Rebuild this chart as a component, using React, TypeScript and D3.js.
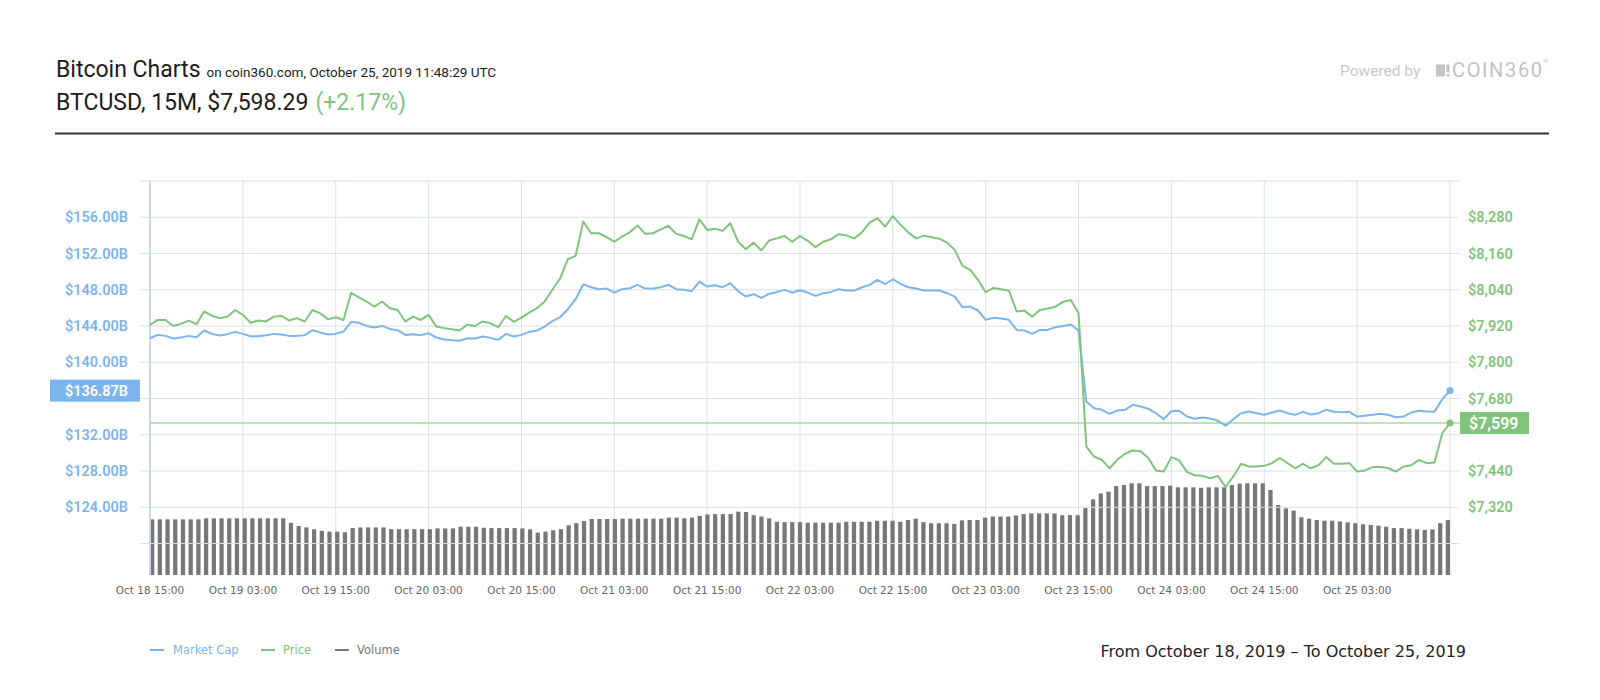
import * as d3 from "d3";

// hourly samples, Oct 18 15:00 -> Oct 25
const xTickLabels = [
  "Oct 18 15:00", "Oct 19 03:00", "Oct 19 15:00", "Oct 20 03:00", "Oct 20 15:00",
  "Oct 21 03:00", "Oct 21 15:00", "Oct 22 03:00", "Oct 22 15:00", "Oct 23 03:00",
  "Oct 23 15:00", "Oct 24 03:00", "Oct 24 15:00", "Oct 25 03:00",
];

// market cap, $B
const marketCap = [
  142.65, 143.02, 142.91, 142.62, 142.73, 142.91, 142.76, 143.5, 143.13, 142.95,
  143.1, 143.35, 143.13, 142.87, 142.87, 142.99, 143.13, 143.06, 142.91, 142.91,
  142.99, 143.54, 143.28, 143.06, 143.13, 143.39, 144.46, 144.35, 144.01, 143.83,
  144.01, 143.68, 143.54, 143.02, 143.1, 142.99, 143.21, 142.73, 142.51, 142.43,
  142.36, 142.65, 142.62, 142.84, 142.69, 142.47, 143.13, 142.84, 143.02, 143.35,
  143.5, 143.94, 144.53, 144.97, 145.85, 146.96, 148.6, 148.28, 148.06, 148.13,
  147.69, 148.06, 148.17, 148.54, 148.13, 148.13, 148.28, 148.54, 148.06, 147.99,
  147.84, 148.9, 148.35, 148.5, 148.28, 148.72, 147.84, 147.25, 147.51, 147.1,
  147.54, 147.76, 147.99, 147.69, 147.95, 147.69, 147.32, 147.62, 147.76, 148.06,
  147.91, 147.91, 148.28, 148.54, 149.09, 148.61, 149.16, 148.65, 148.28, 148.13,
  147.91, 147.91, 147.91, 147.62, 147.25, 146.07, 146.15, 145.71, 144.68, 144.9,
  144.82, 144.68, 143.57, 143.5, 143.13, 143.57, 143.57, 143.87, 144.01, 144.16,
  143.5, 135.67, 134.93, 134.75, 134.31, 134.68, 134.75, 135.3, 135.12, 134.86,
  134.38, 133.72, 134.6, 134.64, 134.01, 133.76, 133.9, 133.79, 133.54, 132.99,
  133.72, 134.38, 134.57, 134.38, 134.2, 134.46, 134.68, 134.38, 134.2, 134.53,
  134.24, 134.38, 134.75, 134.53, 134.49, 134.53, 134.01, 134.09, 134.2, 134.31,
  134.2, 133.94, 134.01, 134.46, 134.64, 134.57, 134.53, 135.93, 136.87,
];

// price, USD
const price = [
  7924, 7940, 7940, 7920, 7927, 7938, 7926, 7968, 7954, 7946,
  7951, 7973, 7957, 7931, 7938, 7935, 7951, 7954, 7938, 7946,
  7935, 7973, 7962, 7942, 7949, 7940, 8030, 8015, 8001, 7984,
  8001, 7979, 7973, 7935, 7951, 7940, 7957, 7918, 7913, 7909,
  7905, 7924, 7920, 7935, 7929, 7916, 7953, 7934, 7948, 7964,
  7979, 8001, 8040, 8078, 8141, 8152, 8266, 8227, 8227, 8214,
  8199, 8216, 8230, 8253, 8225, 8227, 8240, 8251, 8225, 8218,
  8207, 8273, 8238, 8242, 8235, 8260, 8199, 8174, 8196, 8170,
  8203, 8210, 8218, 8199, 8218, 8202, 8181, 8199, 8207, 8224,
  8220, 8210, 8230, 8262, 8277, 8249, 8284, 8255, 8230, 8210,
  8219, 8214, 8209, 8196, 8172, 8119, 8106, 8073, 8032, 8046,
  8042, 8037, 7968, 7971, 7951, 7973, 7978, 7984, 8000, 8006,
  7962, 7521, 7488, 7477, 7449, 7477, 7497, 7508, 7505, 7483,
  7442, 7438, 7486, 7475, 7437, 7426, 7424, 7416, 7424, 7387,
  7422, 7464, 7455, 7455, 7457, 7466, 7483, 7466, 7449, 7464,
  7449, 7459, 7486, 7464, 7464, 7466, 7438, 7442, 7453, 7453,
  7450, 7438, 7455, 7459, 7477, 7466, 7468, 7565, 7599,
];

// 24h volume, $B
const volume = [
  15.9, 15.9, 15.9, 15.9, 15.9, 15.9, 15.9, 16.2, 16.2, 16.2,
  16.2, 16.2, 16.2, 16.2, 16.2, 16.2, 16.2, 16.2, 14.9, 14.0,
  13.6, 13.05, 12.6, 12.4, 12.4, 12.2, 13.4, 13.6, 13.6, 13.6,
  13.6, 13.1, 13.1, 13.1, 13.1, 13.1, 13.1, 13.3, 13.3, 13.3,
  13.8, 13.8, 13.8, 13.5, 13.4, 13.4, 13.4, 13.4, 13.3, 13.05,
  12.1, 12.4, 12.8, 13.1, 14.2, 14.8, 15.4, 16.0, 16.0, 16.0,
  16.0, 16.1, 16.1, 16.1, 16.1, 16.1, 16.1, 16.4, 16.4, 16.2,
  16.4, 16.9, 17.3, 17.4, 17.4, 17.4, 18.1, 18.0, 17.1, 16.7,
  16.2, 15.2, 15.1, 15.1, 15.1, 14.95, 14.95, 14.95, 14.95, 14.95,
  15.2, 15.2, 15.2, 15.2, 15.5, 15.5, 15.5, 15.2, 15.7, 16.1,
  15.1, 14.8, 14.8, 14.8, 14.6, 15.6, 15.7, 15.7, 16.4, 16.7,
  16.7, 16.7, 17.0, 17.4, 17.6, 17.6, 17.6, 17.6, 17.1, 17.1,
  17.1, 19.1, 21.6, 23.3, 23.8, 25.4, 25.7, 26.2, 26.2, 25.4,
  25.4, 25.4, 25.5, 25.05, 25.05, 25.05, 24.9, 25.05, 25.05, 25.05,
  25.7, 26.1, 26.2, 26.2, 26.2, 24.3, 20.0, 19.05, 18.4, 16.5,
  16.1, 15.7, 15.5, 15.5, 15.3, 15.05, 14.8, 14.5, 14.3, 14.1,
  13.8, 13.4, 13.4, 13.2, 13.05, 12.9, 13.05, 14.8, 15.7,
];

const capTicks = [160, 156, 152, 148, 144, 140, 136, 132, 128, 124, 120];
const priceTicks = [8400, 8280, 8160, 8040, 7920, 7800, 7680, 7560, 7440, 7320, 7200];

const BLUE = "#7cb5ec";
const GREEN = "#80c47c";
const GREY = "#777777";
const GRID = "#d8e1e9";

const legend = [
  { name: "Market Cap", color: BLUE },
  { name: "Price", color: GREEN },
  { name: "Volume", color: GREY },
];

export default function App() {
  const width = 1600;
  const height = 700;
  const plot = { left: 150, right: 1450, top: 181, bottom: 575 };

  const n = marketCap.length;
  const x = d3.scaleLinear().domain([0, n - 1]).range([plot.left, plot.right]);
  const yCap = d3.scaleLinear().domain([120, 160]).range([543.5, plot.top]);
  const yPrice = d3.scaleLinear().domain([7200, 8400]).range([543.5, plot.top]);
  const yVol = d3.scaleLinear().domain([0, 30]).range([plot.bottom, 470]);
  const band = d3.scaleBand<number>()
    .domain(d3.range(volume.length))
    .range([plot.left, plot.right])
    .paddingInner(0.45);

  const capLine = d3.line<number>().x((_, i) => x(i)).y((d) => yCap(d));
  const priceLine = d3.line<number>().x((_, i) => x(i)).y((d) => yPrice(d));

  const lastCap = marketCap[n - 1];
  const lastPrice = price[n - 1];
  const capLabelY = yCap(lastCap);
  const priceLabelY = yPrice(lastPrice);

  const fmtCap = (d: number) => `$${d.toFixed(2)}B`;
  const fmtPrice = d3.format("$,.0f");

  const axisFont = "Roboto, 'Open Sans', sans-serif";
  const smallFont = "'DejaVu Sans', Verdana, sans-serif";

  return (
    <svg
      width={width}
      height={height}
      style={{ position: "absolute", left: 0, top: 0, background: "#fff" }}
      fontFamily={axisFont}
    >
      {/* Header */}
      <text x={56} y={77} fontSize={23} fill="#1c1c1c">
        Bitcoin Charts
        <tspan dx={6} fontSize={13.5}>on coin360.com, October 25, 2019 11:48:29 UTC</tspan>
      </text>
      <text x={56} y={109.5} fontSize={23} fill="#1c1c1c">
        BTCUSD, 15M, $7,598.29
        <tspan dx={7} fill={GREEN}>(+2.17%)</tspan>
      </text>
      <line x1={55} x2={1549} y1={133.5} y2={133.5} stroke="#333" strokeWidth={2} />

      {/* Powered by */}
      <text x={1340} y={76} fontSize={15.5} fill="#c9c9c9">Powered by</text>
      <rect x={1436} y={64.5} width={9} height={12} fill="#c4c4c4" />
      <rect x={1446.5} y={64.5} width={3} height={8} fill="#c4c4c4" />
      <rect x={1446.5} y={74} width={3} height={2.5} fill="#c4c4c4" />
      <text x={1452} y={77} fontSize={20} fill="#c2c2c2" textLength={90} lengthAdjust="spacing">
        COIN360
      </text>
      <text x={1543} y={66} fontSize={9} fill="#c2c2c2">™</text>

      {/* Vertical grid */}
      {xTickLabels.map((_, k) => (
        <line
          key={`vg${k}`}
          x1={x((k + 1) * 12)}
          x2={x((k + 1) * 12)}
          y1={plot.top}
          y2={plot.bottom}
          stroke={GRID}
          strokeWidth={1}
        />
      ))}

      {/* Volume bars */}
      {volume.map((v, i) => (
        <rect
          key={`v${i}`}
          x={band(i)}
          y={yVol(v)}
          width={band.bandwidth()}
          height={plot.bottom - yVol(v)}
          fill={GREY}
        />
      ))}

      {/* Horizontal grid */}
      {capTicks.map((t) => (
        <line key={`hg${t}`} x1={140} x2={1459} y1={yCap(t)} y2={yCap(t)} stroke={GRID} strokeWidth={1} />
      ))}
      <line x1={plot.left} x2={plot.left} y1={plot.top} y2={plot.bottom} stroke="#ccd6eb" strokeWidth={2} />

      {/* Left axis labels */}
      {capTicks
        .filter((t, i) => i > 0 && i < capTicks.length - 1 && Math.abs(yCap(t) - capLabelY) > 18)
        .map((t) => (
          <text
            key={`cl${t}`}
            x={128}
            y={yCap(t)}
            dy="0.35em"
            textAnchor="end"
            fontSize={14.5}
            fontWeight={600}
            fill={BLUE}
          >
            {fmtCap(t)}
          </text>
        ))}

      {/* Right axis labels */}
      {priceTicks
        .filter((t, i) => i > 0 && i < priceTicks.length - 1 && Math.abs(yPrice(t) - priceLabelY) > 18)
        .map((t) => (
          <text
            key={`pl${t}`}
            x={1468}
            y={yPrice(t)}
            dy="0.35em"
            fontSize={14.5}
            fontWeight={600}
            fill={GREEN}
          >
            {fmtPrice(t)}
          </text>
        ))}

      {/* Current price line */}
      <line x1={plot.left} x2={1460} y1={priceLabelY} y2={priceLabelY} stroke="#a6dba1" strokeWidth={1.5} />

      {/* Series */}
      <path d={capLine(marketCap) ?? ""} fill="none" stroke={BLUE} strokeWidth={2} strokeLinejoin="round" />
      <path d={priceLine(price) ?? ""} fill="none" stroke={GREEN} strokeWidth={2} strokeLinejoin="round" />
      <circle cx={x(n - 1)} cy={capLabelY} r={3.5} fill={BLUE} />
      <circle cx={x(n - 1)} cy={priceLabelY} r={3.5} fill={GREEN} />

      {/* Current value labels */}
      <rect x={50} y={capLabelY - 11} width={90} height={22} fill={BLUE} />
      <text x={128} y={capLabelY} dy="0.35em" textAnchor="end" fontSize={14.5} fontWeight={600} fill="#fff">
        {fmtCap(lastCap)}
      </text>
      <rect x={1460} y={priceLabelY - 11} width={69} height={22} fill={GREEN} />
      <text x={1469} y={priceLabelY} dy="0.35em" fontSize={16} fontWeight={600} fill="#fff">
        {fmtPrice(lastPrice)}
      </text>

      {/* X axis labels */}
      {xTickLabels.map((label, k) => (
        <text
          key={`xl${k}`}
          x={x(k * 12)}
          y={590}
          dy="0.35em"
          textAnchor="middle"
          fontFamily={smallFont}
          fontSize={10.5}
          fill="#666"
        >
          {label}
        </text>
      ))}

      {/* Legend */}
      {legend.map((item, i) => {
        const lx = [150, 261, 335][i];
        return (
          <g key={item.name} transform={`translate(${lx},650)`}>
            <line x1={0} x2={14} y1={0} y2={0} stroke={item.color} strokeWidth={2} />
            <text x={item.name === "Market Cap" ? 23 : 22} y={0} dy="0.35em" fontFamily={smallFont} fontSize={11.5} fill={item.color}>
              {item.name}
            </text>
          </g>
        );
      })}

      <text x={1466} y={651} dy="0.35em" textAnchor="end" fontFamily={smallFont} fontSize={16} fill="#222">
        From October 18, 2019 – To October 25, 2019
      </text>
    </svg>
  );
}
